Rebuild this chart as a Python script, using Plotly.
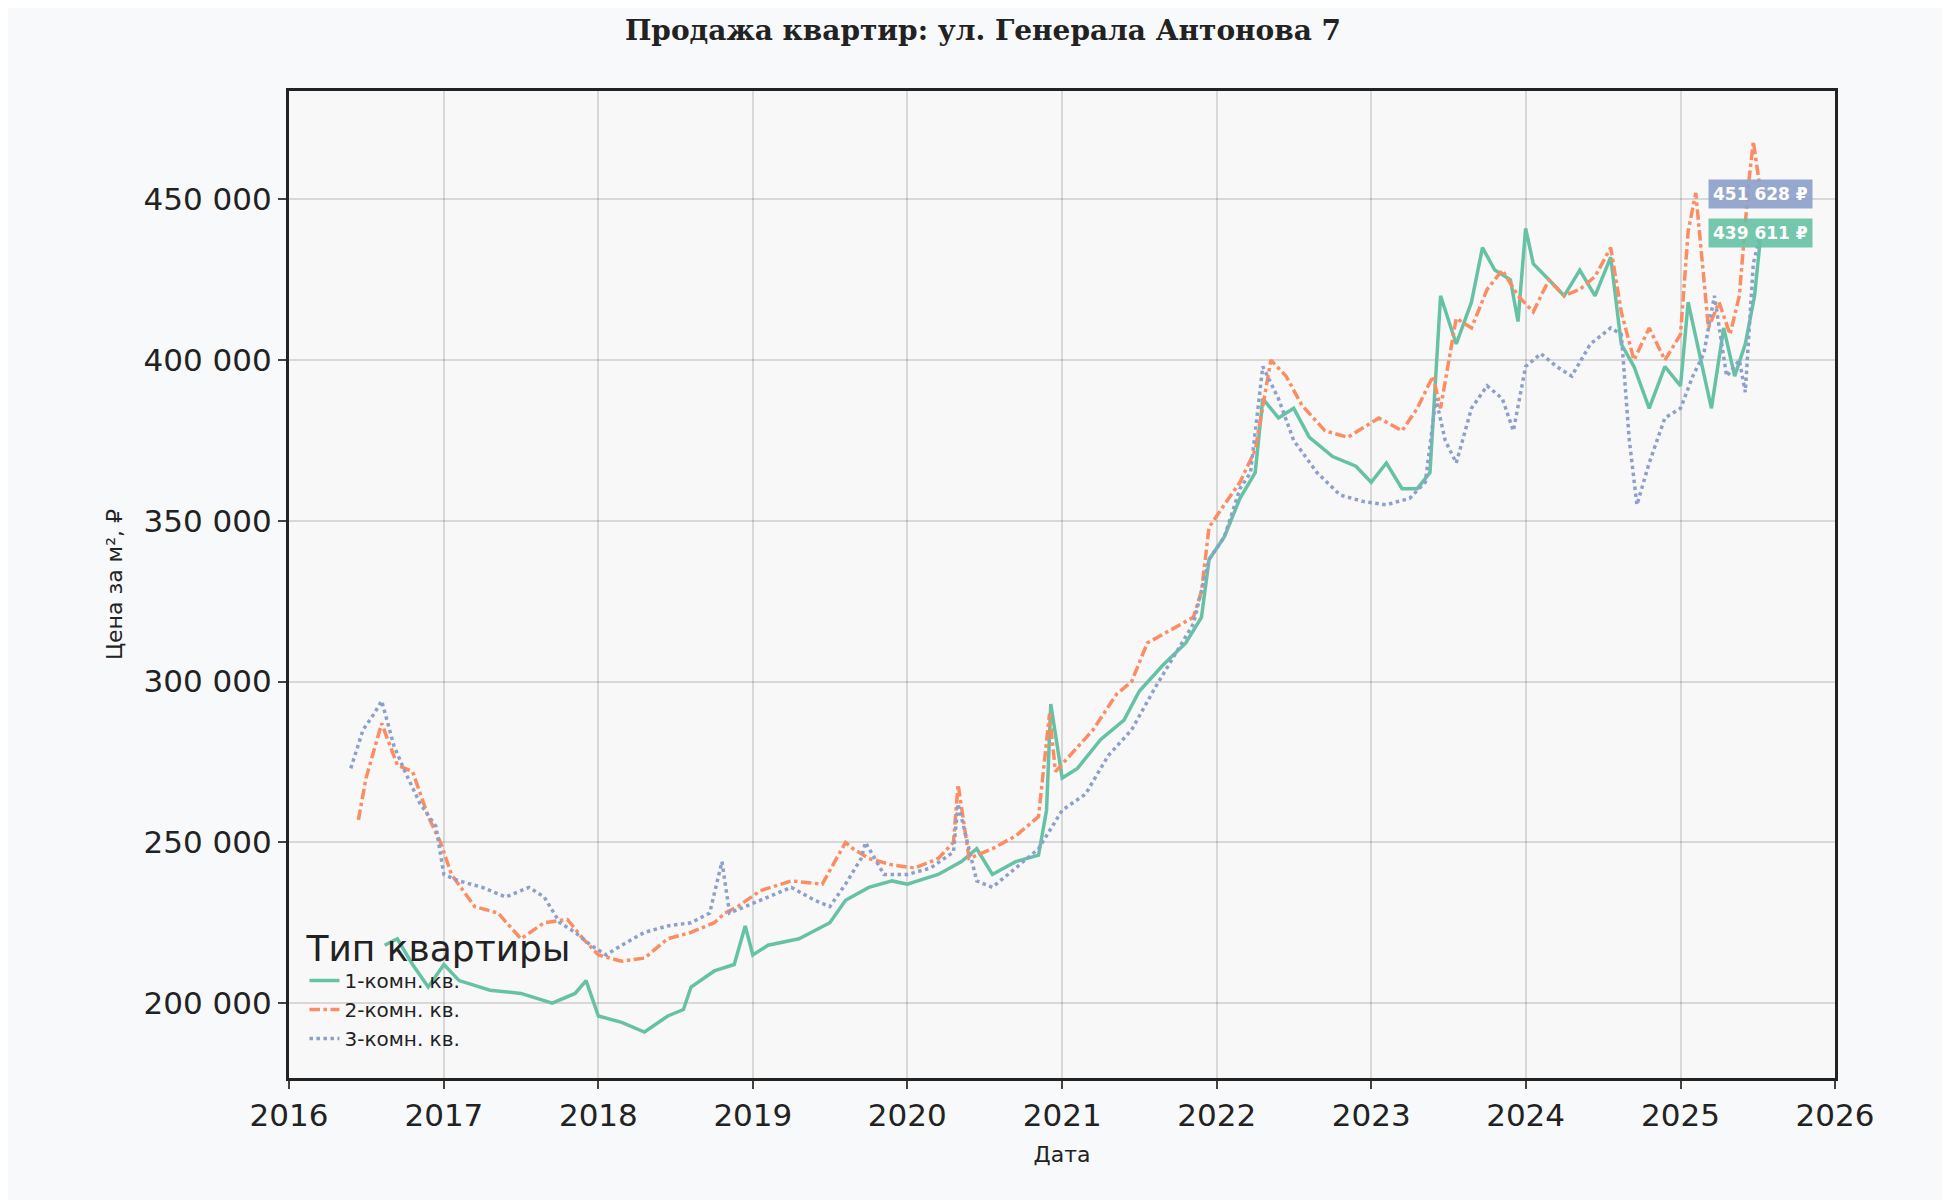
import plotly.graph_objects as go
import datetime as dt

def d(y):
    yr = int(y); frac = y - yr
    return dt.date(yr,1,1) + dt.timedelta(days=round(frac*365))

x1 = [2016.62,2016.7,2016.8,2016.9,2017.0,2017.1,2017.3,2017.5,2017.7,2017.85,2017.92,2018.0,2018.15,2018.3,2018.45,2018.55,2018.6,2018.75,2018.88,2018.95,2019.0,2019.1,2019.3,2019.5,2019.6,2019.75,2019.9,2020.0,2020.2,2020.35,2020.45,2020.55,2020.7,2020.85,2020.9,2020.93,2021.0,2021.1,2021.25,2021.4,2021.5,2021.65,2021.8,2021.9,2021.95,2022.05,2022.15,2022.25,2022.3,2022.4,2022.5,2022.6,2022.75,2022.9,2023.0,2023.1,2023.2,2023.3,2023.38,2023.45,2023.55,2023.65,2023.72,2023.8,2023.9,2023.95,2024.0,2024.05,2024.15,2024.25,2024.35,2024.45,2024.55,2024.62,2024.7,2024.8,2024.9,2025.0,2025.05,2025.12,2025.2,2025.28,2025.35,2025.42,2025.48,2025.52]
y1 = [218000,220000,212000,205000,212000,207000,204000,203000,200000,203000,207000,196000,194000,191000,196000,198000,205000,210000,212000,224000,215000,218000,220000,225000,232000,236000,238000,237000,240000,244000,248000,240000,244000,246000,260000,293000,270000,273000,282000,288000,297000,305000,312000,320000,338000,345000,357000,365000,388000,382000,385000,376000,370000,367000,362000,368000,360000,360000,365000,420000,405000,418000,435000,428000,425000,412000,441000,430000,425000,420000,428000,420000,432000,405000,398000,385000,398000,392000,418000,402000,385000,410000,395000,405000,420000,439611]

x2 = [2016.45,2016.5,2016.6,2016.7,2016.8,2016.9,2016.98,2017.05,2017.2,2017.35,2017.5,2017.65,2017.8,2017.9,2018.0,2018.15,2018.3,2018.45,2018.6,2018.75,2018.82,2018.9,2019.05,2019.25,2019.45,2019.6,2019.65,2019.75,2019.9,2020.05,2020.2,2020.3,2020.33,2020.4,2020.55,2020.7,2020.85,2020.92,2020.96,2021.05,2021.2,2021.35,2021.45,2021.55,2021.7,2021.85,2021.9,2021.95,2022.05,2022.15,2022.25,2022.35,2022.45,2022.55,2022.7,2022.85,2022.95,2023.05,2023.2,2023.3,2023.4,2023.45,2023.55,2023.65,2023.75,2023.85,2023.95,2024.05,2024.15,2024.25,2024.35,2024.45,2024.55,2024.62,2024.7,2024.8,2024.9,2025.0,2025.05,2025.1,2025.18,2025.25,2025.32,2025.38,2025.44,2025.47,2025.52]
y2 = [257000,270000,287000,274000,272000,258000,250000,240000,230000,228000,220000,225000,226000,220000,215000,213000,214000,220000,222000,225000,228000,230000,235000,238000,237000,250000,248000,245000,243000,242000,245000,250000,268000,245000,248000,252000,258000,290000,272000,277000,285000,296000,300000,312000,316000,320000,328000,348000,355000,362000,372000,400000,395000,386000,378000,376000,379000,382000,378000,385000,395000,385000,413000,410000,422000,428000,420000,415000,425000,420000,422000,426000,435000,415000,400000,410000,400000,408000,440000,452000,410000,418000,408000,420000,455000,468000,451628]

x3 = [2016.4,2016.48,2016.55,2016.6,2016.68,2016.75,2016.85,2016.95,2017.0,2017.1,2017.25,2017.4,2017.55,2017.65,2017.75,2017.85,2017.95,2018.05,2018.15,2018.3,2018.45,2018.6,2018.72,2018.8,2018.85,2018.95,2019.1,2019.25,2019.4,2019.5,2019.6,2019.7,2019.73,2019.85,2020.0,2020.15,2020.3,2020.33,2020.45,2020.55,2020.7,2020.85,2021.0,2021.15,2021.3,2021.45,2021.6,2021.75,2021.85,2021.95,2022.05,2022.15,2022.22,2022.3,2022.4,2022.5,2022.65,2022.8,2022.95,2023.1,2023.25,2023.35,2023.42,2023.48,2023.55,2023.65,2023.75,2023.85,2023.92,2024.0,2024.1,2024.2,2024.3,2024.42,2024.55,2024.62,2024.67,2024.72,2024.8,2024.9,2025.0,2025.08,2025.15,2025.22,2025.3,2025.38,2025.42,2025.47,2025.52]
y3 = [273000,285000,290000,294000,280000,272000,262000,255000,240000,238000,236000,233000,236000,233000,225000,222000,218000,215000,218000,222000,224000,225000,228000,244000,228000,230000,233000,236000,232000,230000,237000,245000,250000,240000,240000,242000,247000,262000,238000,236000,242000,248000,260000,265000,277000,285000,298000,310000,318000,338000,345000,360000,365000,398000,388000,375000,365000,358000,356000,355000,357000,362000,388000,375000,368000,385000,392000,388000,378000,398000,402000,398000,395000,405000,410000,408000,375000,355000,368000,382000,385000,395000,402000,420000,395000,400000,390000,430000,440000]

cg, co, cb = "#66c2a5", "#fc8d62", "#8da0cb"
fig = go.Figure()
fig.add_trace(go.Scatter(x=[d(v) for v in x1], y=y1, mode="lines", name="1-комн. кв.", line=dict(color=cg, width=3.5)))
fig.add_trace(go.Scatter(x=[d(v) for v in x2], y=y2, mode="lines", name="2-комн. кв.", line=dict(color=co, width=3.5, dash="dashdot")))
fig.add_trace(go.Scatter(x=[d(v) for v in x3], y=y3, mode="lines", name="3-комн. кв.", line=dict(color=cb, width=3.5, dash="dot")))

for xv, yv, c in [(x2[-1], y2[-1], cb), (x1[-1], y1[-1], cg)]:
    fig.add_annotation(x=d(xv), y=yv, text=f"<b>{yv:,} ₽</b>".replace(",", " "),
                       showarrow=False, xanchor="center", font=dict(color="white", size=17, family="DejaVu Sans"),
                       bgcolor=c, borderpad=4, opacity=0.9)

ax = dict(showline=True, linecolor="#222", linewidth=3, mirror=True, gridcolor="rgba(0,0,0,0.13)", gridwidth=1.5,
          ticks="outside", ticklen=8, tickwidth=2, tickfont=dict(size=31, color="#222"))
fig.update_layout(
    width=1950, height=1200, paper_bgcolor="#f8f9fa", plot_bgcolor="#f8f8f8",
    margin=dict(l=281, r=123, t=83, b=130),
    font=dict(family="DejaVu Sans", color="#222"),
    title=dict(text="<b>Продажа квартир: ул. Генерала Антонова 7</b>", x=0.5, y=0.99, yanchor="top",
               font=dict(family="DejaVu Serif", size=28)),
    xaxis=dict(ax, range=[d(2016.0), d(2026.0)], dtick="M12", tickformat="%Y",
               title=dict(text="Дата", font=dict(size=22))),
    yaxis=dict(ax, range=[176700, 483700], tickvals=[200000,250000,300000,350000,400000,450000],
               ticktext=["200 000","250 000","300 000","350 000","400 000","450 000"],
               title=dict(text="Цена за м², ₽", font=dict(size=22))),
    legend=dict(x=0.01, y=0.02, xanchor="left", yanchor="bottom", bgcolor="rgba(0,0,0,0)",
                title=dict(text="Тип квартиры", font=dict(size=36)), font=dict(size=20)),
)
fig.write_html("out.html")
